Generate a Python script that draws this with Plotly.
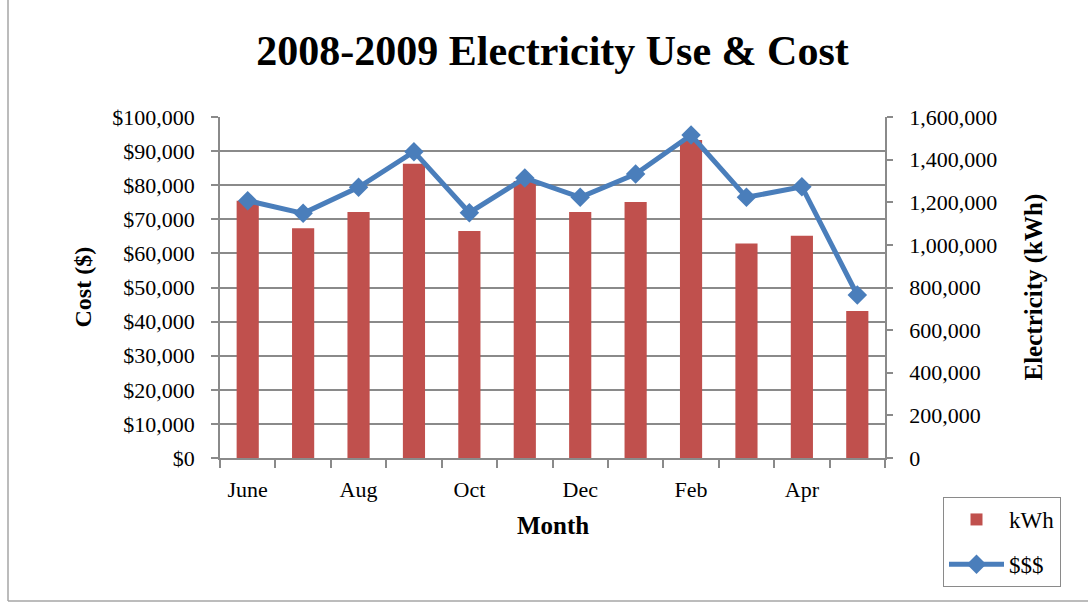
import plotly.graph_objects as go

months = ["June", "July", "Aug", "Sept", "Oct", "Nov", "Dec", "Jan", "Feb", "Mar", "Apr", "May"]
kwh = [1207000, 1078000, 1154000, 1381000, 1065000, 1300000, 1154000, 1201000, 1492000, 1006000, 1043000, 690000]
cost = [75450, 71750, 79370, 89830, 71940, 82110, 76450, 83280, 94720, 76450, 79560, 47800]

idx = list(range(len(months)))
FONT = "Liberation Serif"
GRID = "#8a8a8a"
RED = "#C0504D"
BLUE = "#4A7EBB"

fig = go.Figure()
fig.add_trace(go.Bar(x=idx, y=kwh, name="kWh", marker=dict(color=RED, line=dict(width=0)),
                     yaxis="y", legendgroup="a"))
fig.add_trace(go.Scatter(x=idx, y=cost, name="$$$", mode="lines+markers",
                         line=dict(color=BLUE, width=5),
                         marker=dict(symbol="diamond", size=15, color=BLUE),
                         yaxis="y2", legendgroup="b"))

fig.update_layout(
    width=1088, height=605,
    margin=dict(l=220, r=203, t=117, b=147),
    paper_bgcolor="white", plot_bgcolor="white",
    font=dict(family=FONT, color="black", size=22),
    bargap=0.6,
    title=dict(text="<b>2008-2009 Electricity Use &amp; Cost</b>", x=0.5, xref="paper",
               y=1 - 50 / 605, yanchor="middle", font=dict(size=42, family=FONT)),
    xaxis=dict(range=[-0.5, len(months) - 0.5], tickmode="array", tickvals=idx[::2],
               ticktext=months[::2], ticks="", showgrid=False, showline=True,
               linecolor=GRID, linewidth=1.5, ticklabelstandoff=11,
               tickfont=dict(size=22),
               minor=dict(ticks="outside", tickvals=[i - 0.5 for i in range(len(months) + 1)],
                          ticklen=8, tickcolor=GRID, tickwidth=1.5, showgrid=False),
               zeroline=False),
    yaxis=dict(side="right", range=[0, 1600000], dtick=200000, tickformat=",",
               ticks="outside", ticklen=6, tickcolor=GRID, tickwidth=1.5,
               showgrid=False, showline=True, linecolor=GRID, linewidth=1.5,
               zeroline=False, ticklabelstandoff=12, tickfont=dict(size=22)),
    yaxis2=dict(side="left", overlaying="y", range=[0, 100000], dtick=10000,
                tickformat="$,.0f", ticks="outside", ticklen=7, tickcolor=GRID, tickwidth=1.5,
                showgrid=True, gridcolor=GRID, gridwidth=1.5, showline=True,
                linecolor=GRID, linewidth=1.5, zeroline=False, ticklabelstandoff=12,
                tickfont=dict(size=22)),
    legend=dict(x=(943 - 220) / 665, y=(458 - 497) / 341, xanchor="left", yanchor="top",
                bordercolor=GRID, borderwidth=1, bgcolor="white",
                font=dict(size=23, family=FONT), tracegroupgap=12, traceorder="grouped",
                itemwidth=55, entrywidth=70),
    showlegend=True,
    annotations=[
        dict(text="<b>Cost ($)</b>", xref="paper", yref="paper", x=(82 - 220) / 665, y=0.5,
             textangle=-90, showarrow=False, font=dict(size=24, family=FONT),
             xanchor="center", yanchor="middle"),
        dict(text="<b>Electricity (kWh)</b>", xref="paper", yref="paper", x=(1033 - 220) / 665,
             y=0.5, textangle=-90, showarrow=False, font=dict(size=25, family=FONT),
             xanchor="center", yanchor="middle"),
        dict(text="<b>Month</b>", xref="paper", yref="paper", x=0.5, y=(458 - 525) / 341,
             showarrow=False, font=dict(size=25, family=FONT), xanchor="center", yanchor="middle"),
    ],
    shapes=[
        dict(type="line", xref="paper", yref="paper", x0=(8 - 220) / 665, x1=(8 - 220) / 665,
             y0=(458 - 601) / 341, y1=(458 + 5) / 341, line=dict(color="#a6a6a6", width=1.5)),
        dict(type="line", xref="paper", yref="paper", x0=(8 - 220) / 665, x1=(1100 - 220) / 665,
             y0=(458 - 601) / 341, y1=(458 - 601) / 341, line=dict(color="#a6a6a6", width=1.5)),
    ],
)

fig.write_html("out.html")
